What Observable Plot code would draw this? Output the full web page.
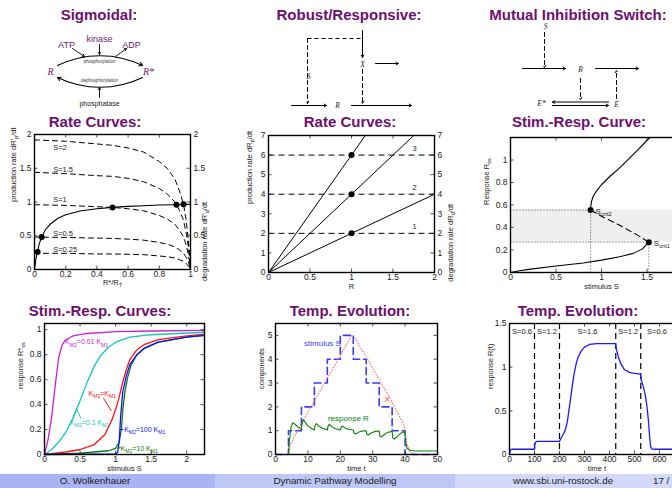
<!DOCTYPE html>
<html><head><meta charset="utf-8">
<script src="https://cdn.jsdelivr.net/npm/d3@7"></script>
<script src="https://cdn.jsdelivr.net/npm/@observablehq/plot@0.6"></script>
<style>
body{margin:0;width:672px;height:488px;overflow:hidden;background:#fff;position:relative;font-family:"Liberation Sans",Arial,sans-serif}
.ttl{position:absolute;width:240px;text-align:center;font-weight:bold;font-size:15px;line-height:15px;color:#6e0f6e;white-space:nowrap}
.foot{position:absolute;top:474px;height:14px}
.ftxt{position:absolute;top:474px;font-size:9.8px;line-height:14px;color:#1a1a1a;white-space:nowrap}
</style></head><body>
<script>
// ================= DATA =================
const titles = ["Sigmoidal:", "Robust/Responsive:", "Mutual Inhibition Switch:",
  "Rate Curves:", "Rate Curves:", "Stim.-Resp. Curve:",
  "Stim.-Resp. Curves:", "Temp. Evolution:", "Temp. Evolution:"];
const footerTexts = ["O. Wolkenhauer", "Dynamic Pathway Modelling", "www.sbi.uni-rostock.de", "17 /"];

// Panel: Rate curves (sigmoidal)
const rcR = [0,0.2,0.4,0.5,0.6,0.7,0.8,0.85,0.9,0.93,0.955,0.97,0.98,0.99,1];
const prodS2   = [1.92,1.90,1.86,1.84,1.80,1.74,1.60,1.50,1.34,1.16,0.97,0.76,0.58,0.34,0];
const prodS15  = [1.44,1.42,1.39,1.38,1.35,1.30,1.20,1.12,1.00,0.87,0.73,0.57,0.44,0.25,0];
const prodS1   = [0.96,0.95,0.93,0.92,0.90,0.87,0.80,0.75,0.67,0.58,0.485,0.38,0.29,0.17,0];
const prodS05  = [0.48,0.475,0.465,0.46,0.45,0.435,0.40,0.375,0.335,0.29,0.24,0.19,0.145,0.085,0];
const prodS025 = [0.24,0.24,0.23,0.23,0.225,0.22,0.20,0.19,0.17,0.145,0.12,0.095,0.07,0.04,0];
const prodLabels = ["S=2","S=1.5","S=1","S=0.5","S=0.25"];
const degR = [0,0.005,0.01,0.02,0.03,0.046,0.07,0.1,0.15,0.2,0.3,0.4,0.5,0.6,0.7,0.8,0.9,1];
const degRate = [0,0.09,0.17,0.27,0.38,0.48,0.59,0.67,0.76,0.81,0.87,0.90,0.92,0.935,0.945,0.955,0.96,0.965];
const eqR = [0.02,0.046,0.5,0.91,0.955];
const eqRate = [0.26,0.48,0.92,0.96,0.965];
const rcXTicks = [0,0.2,0.4,0.6,0.8,1];
const rcYTicks = [0,0.5,1,1.5,2];

// Panel: Rate curves (robust)
const robLevels = [2,4,6];
const robLevelLabels = ["1","2","3"];
const robEndR = [2,1.75,1.1667];
const robEndRate = [4,7,7];
const robDotR = [1,1,1];
const robXTicks = [0,0.5,1,1.5,2];
const robYTicks = [0,1,2,3,4,5,6,7];

// Panel: Stim.-Resp. Curve (switch)
const lowS = [0,0.1,0.2,0.5,0.8,1.0,1.2,1.35,1.45,1.52];
const lowR = [0,0.015,0.028,0.058,0.085,0.11,0.14,0.17,0.21,0.27];
const midS = [0.88,1.0,1.2,1.4,1.52];
const midR = [0.555,0.50,0.42,0.33,0.27];
const upS = [0.88,0.882,0.89,0.91,0.95,1.0,1.1,1.2,1.3,1.4,1.53];
const upR = [0.555,0.59,0.63,0.68,0.73,0.78,0.86,0.93,1.01,1.09,1.2];
const critS = [0.88,1.52];
const critR = [0.555,0.27];
const critLabels = ["S_{crit2}","S_{crit1}"];
const swXTicks = [0,0.5,1,1.5];
const swYTicks = [0,0.2,0.4,0.6,0.8,1];

// Panel: Stim.-Resp. Curves (family)
const magS = [0,0.05,0.1,0.15,0.2,0.25,0.3,0.4,0.6,1,1.5,2.25];
const magR = [0,0.12,0.3,0.55,0.78,0.88,0.92,0.95,0.97,0.985,0.99,0.995];
const cyS = [0,0.1,0.2,0.3,0.4,0.45,0.5,0.6,0.7,0.8,0.9,1.0,1.2,1.5,2.25];
const cyR = [0,0.04,0.1,0.18,0.29,0.36,0.43,0.58,0.71,0.8,0.86,0.9,0.94,0.96,0.98];
const redS = [0,0.3,0.5,0.7,0.85,0.95,1.0,1.05,1.1,1.15,1.2,1.3,1.4,1.6,2.0,2.25];
const redR = [0,0.02,0.04,0.08,0.16,0.28,0.36,0.46,0.58,0.68,0.76,0.84,0.88,0.92,0.95,0.965];
const grS = [0,0.5,0.9,1.0,1.05,1.08,1.1,1.13,1.17,1.22,1.3,1.4,1.6,2.0,2.25];
const grR = [0,0.01,0.03,0.05,0.1,0.2,0.35,0.5,0.62,0.72,0.8,0.85,0.9,0.94,0.955];
const blS = [0,1.0,1.03,1.05,1.07,1.1,1.15,1.2,1.3,1.4,1.6,2.0,2.25];
const blR = [0,0.005,0.02,0.1,0.3,0.5,0.63,0.72,0.8,0.85,0.9,0.94,0.955];
const famLabels = ["K_{M2}=0.01 K_{M1}","K_{M2}=K_{M1}","K_{M2}=0.1 K_{M1}","K_{M2}=100 K_{M1}","K_{M2}=10 K_{M1}"];
const famXTicks = [0,0.5,1,1.5,2];
const famYTicks = [0,0.2,0.4,0.6,0.8,1];

// Panel: Temp. Evolution (robust)
const stimT = [0,4,8,12,16,20,24,28,32,36,40,50];
const stimS = [0,1,2,3,4,5,4,3,2,1,0,0];
const xT = [0,4,4.5,8,12,16,20,23.5,24,28,32,36,39.8,40.5,41.5,43,50];
const xV = [0,0,0.4,1.3,2.25,3.2,4.15,5.0,5.0,4.1,3.15,2.2,1.2,0.5,0.1,0,0];
const respT = [0,4,4.3,4.8,5.3,6,7,8,8.2,8.6,9.2,10,11,12,12.2,12.6,13.3,14.5,16,16.2,16.6,17.3,18.5,20,20.2,20.6,21.3,22.5,24,24.2,24.7,25.5,26.5,28,28.2,28.7,29.5,30.5,32,32.2,32.7,33.5,34.5,36,36.2,36.7,37.5,38.5,39.9,40.2,40.6,41.5,43,50];
const respR = [0,0,0.6,1.15,1.33,1.27,1.15,1.07,1.3,1.47,1.35,1.2,1.1,1.03,1.2,1.3,1.2,1.1,1.03,1.18,1.27,1.17,1.08,1.03,1.12,1.2,1.12,1.06,1.03,0.9,0.86,0.93,0.98,1.0,0.85,0.82,0.9,0.96,0.99,0.78,0.74,0.83,0.92,0.97,0.7,0.65,0.75,0.88,0.97,0.5,0.25,0.18,0.15,0.15];
const teXTicks = [0,10,20,30,40,50];
const teYTicks = [0,1,2,3,4,5];

// Panel: Temp. Evolution (switch)
const swT = [0,3,8,100,101,104,110,200,205,213,222,231,240,248,257,266,275,288,300,320,350,424,428,435,445,460,480,500,524,527,535,543,550,556,560,564,568,580,700];
const swRt = [0,0.05,0.06,0.06,0.11,0.14,0.15,0.15,0.18,0.22,0.27,0.37,0.55,0.72,0.9,1.03,1.12,1.19,1.23,1.26,1.27,1.27,1.2,1.12,1.04,0.97,0.94,0.93,0.92,0.85,0.78,0.68,0.55,0.38,0.22,0.1,0.065,0.06,0.06];
const switchTimes = [100,200,425,525];
const phaseLabels = ["S=0.6","S=1.2","S=1.6","S=1.2","S=0.6"];
const phaseMid = [50,150,312,475,590];
const te2XTicks = [0,100,200,300,400,500,600];
const te2YTicks = [0,0.5,1,1.5];

// ================= HELPERS =================
const pts = (xs, ys) => xs.map((x, i) => ({x, y: ys[i]}));
const SVGNS = "http://www.w3.org/2000/svg";
function subify(svg) {
  svg.querySelectorAll("text").forEach(t => {
    const s = t.textContent;
    if (!/[_^]\{/.test(s)) return;
    const fs = parseFloat(getComputedStyle(t).fontSize) || 8;
    while (t.firstChild) t.removeChild(t.firstChild);
    const re = /([_^])\{([^}]*)\}/g;
    let last = 0, m, cur = 0;
    const add = (str, off, small) => {
      const ts = document.createElementNS(SVGNS, "tspan");
      ts.textContent = str;
      if (off !== cur) ts.setAttribute("dy", off - cur);
      if (small) ts.setAttribute("font-size", fs * 0.72);
      cur = off;
      t.appendChild(ts);
    };
    while ((m = re.exec(s))) {
      if (m.index > last) add(s.slice(last, m.index), 0, false);
      add(m[2], m[1] === "_" ? fs * 0.3 : -fs * 0.4, true);
      last = re.lastIndex;
    }
    if (last < s.length) add(s.slice(last), 0, false);
  });
}
function place(el, left, top) {
  el.style.position = "absolute"; el.style.left = left + "px"; el.style.top = top + "px";
  document.body.appendChild(el);
  subify(el);
}
const fmt = d => String(d);

function chart(o) {
  const [mt, mr, mb, ml] = o.m;
  const fh = o.height - mt - mb, fw = o.width - ml - mr;
  const marks = [
    ...(o.under || []),
    ...o.marks,
    Plot.tickX(o.xt, {x: d => d, insetTop: fh - 3.5, strokeWidth: 0.8}),
    Plot.tickX(o.xt, {x: d => d, insetBottom: fh - 3.5, strokeWidth: 0.8}),
    Plot.tickY(o.yt, {y: d => d, insetRight: fw - 3.5, strokeWidth: 0.8}),
    Plot.tickY(o.yt, {y: d => d, insetLeft: fw - 3.5, strokeWidth: 0.8}),
    Plot.axisX({ticks: o.xt, tickSize: 0, tickPadding: 1, tickFormat: fmt, label: null, fontSize: 8.5}),
    Plot.axisY({ticks: o.yt, tickSize: 0, tickPadding: 3, tickFormat: fmt, label: null, fontSize: 8.5}),
    Plot.frame({stroke: "black", strokeWidth: 1.4}),
    Plot.text([o.xl], {frameAnchor: "bottom", dy: o.xlDy, text: d => d, fontSize: 7.5}),
    Plot.text([o.yl], {frameAnchor: "left", rotate: -90, dx: o.ylDx, text: d => d, fontSize: 7.5})
  ];
  if (o.yr) {
    marks.push(Plot.axisY({anchor: "right", ticks: o.yt, tickSize: 0, tickPadding: 3, tickFormat: fmt, label: null, fontSize: 8.5}));
    marks.push(Plot.text([o.yr], {frameAnchor: "right", rotate: -90, dx: o.yrDx, text: d => d, fontSize: 7.5}));
  }
  const svg = Plot.plot({
    width: o.width, height: o.height,
    marginTop: mt, marginRight: mr, marginBottom: mb, marginLeft: ml,
    x: {domain: o.xd}, y: {domain: o.yd},
    style: {fontFamily: "'Liberation Sans', Arial, sans-serif", color: "#222", background: "transparent", overflow: "visible"},
    marks
  });
  place(svg, o.left, o.top);
}

function diagram(left, marks) {
  const svg = Plot.plot({
    width: 224, height: 110, margin: 0,
    x: {domain: [0, 224], range: [0, 224], axis: null},
    y: {domain: [0, 110], range: [0, 110], axis: null},
    style: {background: "transparent", overflow: "visible", fontFamily: "'Liberation Sans', Arial, sans-serif"},
    marks
  });
  place(svg, left, 0);
}

// ================= LAYOUT =================
const titleCenters = [[99,7],[349,7],[578,7],[95,114],[350,114],[579,114],[100,303],[350,303],[578,303]];
titles.forEach((t, i) => {
  const d = document.createElement("div");
  d.className = "ttl"; d.textContent = t;
  d.style.left = (titleCenters[i][0] - 120) + "px"; d.style.top = titleCenters[i][1] + "px";
  document.body.appendChild(d);
});

// ---- Diagram 1: Sigmoidal (phosphorylation cycle)
const serifIt = {fontFamily: "'Liberation Serif', serif", fontStyle: "italic"};
const purple = "#6e1a6e";
const d1Words = [{t: "ATP", x: 66, y: 45}, {t: "kinase", x: 99, y: 39}, {t: "ADP", x: 131, y: 45}];
const d1Species = [{t: "R", x: 50, y: 71}, {t: "R*", x: 148, y: 71}];
const d1Small = [{t: "phosphorylation", x: 99, y: 61}, {t: "dephosphorylation", x: 99, y: 80}];
const d1Straight = [
  {x1: 99, y1: 44, x2: 99, y2: 54}, {x1: 72, y1: 48, x2: 84, y2: 56},
  {x1: 115, y1: 56, x2: 126, y2: 48}, {x1: 99, y1: 97, x2: 99, y2: 87}];
diagram(0, [
  Plot.arrow([{x1: 57, y1: 65, x2: 142, y2: 65}], {x1: "x1", y1: "y1", x2: "x2", y2: "y2", bend: 26, headLength: 5, strokeWidth: 1.1}),
  Plot.arrow([{x1: 142, y1: 77, x2: 57, y2: 77}], {x1: "x1", y1: "y1", x2: "x2", y2: "y2", bend: 26, headLength: 5, strokeWidth: 1.1}),
  Plot.arrow(d1Straight, {x1: "x1", y1: "y1", x2: "x2", y2: "y2", headLength: 4, strokeWidth: 0.9}),
  Plot.text(d1Words, {x: "x", y: "y", text: "t", fill: purple, fontSize: 9}),
  Plot.text(d1Species, {x: "x", y: "y", text: "t", fill: purple, fontSize: 10, ...serifIt}),
  Plot.text(d1Small, {x: "x", y: "y", text: "t", fill: "#333", fontSize: 4.5}),
  Plot.text([{t: "phosphatase", x: 99, y: 103}], {x: "x", y: "y", text: "t", fill: "#222", fontSize: 7})
]);

// ---- Diagram 2: Robust / Responsive
const d2Dashed = [{x1: 83, y1: 38, x2: 138, y2: 38}];
const d2DashedArrows = [{x1: 83, y1: 38, x2: 83, y2: 103}, {x1: 138, y1: 69, x2: 138, y2: 103}];
const d2Arrows = [{x1: 138, y1: 30, x2: 138, y2: 57}, {x1: 151, y1: 63, x2: 174, y2: 63},
  {x1: 67, y1: 105, x2: 102, y2: 105}, {x1: 127, y1: 105, x2: 187, y2: 105}];
const d2Labels = [{t: "S", x: 84, y: 76}, {t: "X", x: 138, y: 64}, {t: "R", x: 113, y: 105}];
diagram(224, [
  Plot.link(d2Dashed, {x1: "x1", y1: "y1", x2: "x2", y2: "y2", strokeDasharray: "4,3", strokeWidth: 1}),
  Plot.arrow(d2DashedArrows, {x1: "x1", y1: "y1", x2: "x2", y2: "y2", strokeDasharray: "4,3", headLength: 4, strokeWidth: 1}),
  Plot.arrow(d2Arrows, {x1: "x1", y1: "y1", x2: "x2", y2: "y2", headLength: 4, strokeWidth: 1}),
  Plot.text(d2Labels, {x: "x", y: "y", text: "t", fill: "#222", fontSize: 7.5, ...serifIt})
]);

// ---- Diagram 3: Mutual inhibition switch
const d3DashedArrows = [{x1: 96, y1: 32, x2: 96, y2: 67}, {x1: 132, y1: 78, x2: 132, y2: 99}, {x1: 168, y1: 98, x2: 168, y2: 70}];
const d3Arrows = [{x1: 74, y1: 68, x2: 117, y2: 68}, {x1: 147, y1: 68, x2: 190, y2: 68},
  {x1: 160, y1: 101.5, x2: 104, y2: 101.5}, {x1: 104, y1: 105, x2: 160, y2: 105}];
const d3Labels = [{t: "S", x: 97, y: 26}, {t: "R", x: 132, y: 69}, {t: "E*", x: 93, y: 103}, {t: "E", x: 168, y: 104}];
diagram(448, [
  Plot.arrow(d3DashedArrows, {x1: "x1", y1: "y1", x2: "x2", y2: "y2", strokeDasharray: "4,3", headLength: 4, strokeWidth: 1}),
  Plot.arrow(d3Arrows, {x1: "x1", y1: "y1", x2: "x2", y2: "y2", headLength: 4, strokeWidth: 1}),
  Plot.text(d3Labels, {x: "x", y: "y", text: "t", fill: "#222", fontSize: 7.5, ...serifIt})
]);

// ---- Panel 4: Rate curves (sigmoidal)
const prodSeries = [prodS2, prodS15, prodS1, prodS05, prodS025];
const prodLabelY = [1.81, 1.48, 1.03, 0.53, 0.30];
chart({
  left: 0, top: 128, width: 224, height: 166, m: [6, 34, 25, 34],
  xd: [0, 1], yd: [0, 2], xt: rcXTicks, yt: rcYTicks,
  xl: "R*/R_{T}", xlDy: 15, yl: "production rate dR'_{p}/dt", ylDx: -21,
  yr: "degradation rate dR'_{d}/dt", yrDx: 14,
  marks: [
    ...prodSeries.map(s => Plot.line(pts(rcR, s), {x: "x", y: "y", stroke: "black", strokeWidth: 1, strokeDasharray: "5,4"})),
    Plot.line(pts(degR, degRate), {x: "x", y: "y", stroke: "black", strokeWidth: 1.1}),
    Plot.dot(pts(eqR, eqRate), {x: "x", y: "y", r: 3, fill: "black"}),
    Plot.text(prodLabels.map((t, i) => ({t, y: prodLabelY[i]})), {x: 0.12, y: "y", text: "t", textAnchor: "start", fontSize: 7.5, fill: "#222"})
  ]
});

// ---- Panel 5: Rate curves (robust)
chart({
  left: 224, top: 128, width: 240, height: 166, m: [7, 30, 22, 44],
  xd: [0, 2], yd: [0, 7], xt: robXTicks, yt: robYTicks,
  xl: "R", xlDy: 16, yl: "production rate dR_{p}/dt", ylDx: -19,
  yr: "degradation rate dR_{d}/dt", yrDx: 16,
  marks: [
    Plot.link(robLevels, {x1: 0, x2: 2, y1: d => d, y2: d => d, stroke: "black", strokeDasharray: "6,4", strokeWidth: 1}),
    Plot.link(robEndR.map((r, i) => ({r, v: robEndRate[i]})), {x1: 0, y1: 0, x2: "r", y2: "v", stroke: "black", strokeWidth: 1}),
    Plot.dot(pts(robDotR, robLevels), {x: "x", y: "y", r: 3, fill: "black"}),
    Plot.text(robLevels.map((v, i) => ({v, t: robLevelLabels[i]})), {x: 1.76, y: d => d.v + 0.35, text: "t", fontSize: 7.5, fill: "#222"})
  ]
});

// ---- Panel 6: Stim.-Resp. Curve (switch)
chart({
  left: 448, top: 128, width: 250, height: 166, m: [9, 6, 22, 62],
  xd: [0, 2], yd: [0, 1.2], xt: swXTicks, yt: swYTicks,
  xl: "stimulus S", xlDy: 16, yl: "Response R_{ss}", ylDx: -24,
  under: [
    Plot.rect([0], {x1: 0, x2: 2, y1: critR[1], y2: critR[0], fill: "#efefef"})
  ],
  marks: [
    Plot.link(pts(critS, critR), {x1: 0, x2: "x", y1: "y", y2: "y", stroke: "#444", strokeDasharray: "1,2", strokeWidth: 1}),
    Plot.link(pts(critS, critR), {x1: "x", x2: "x", y1: 0, y2: "y", stroke: "#444", strokeDasharray: "1,2", strokeWidth: 1}),
    Plot.line(pts(lowS, lowR), {x: "x", y: "y", stroke: "black", strokeWidth: 1.1}),
    Plot.line(pts(upS, upR), {x: "x", y: "y", stroke: "black", strokeWidth: 1.1}),
    Plot.line(pts(midS, midR), {x: "x", y: "y", stroke: "black", strokeWidth: 1.1, strokeDasharray: "6,4"}),
    Plot.dot(pts(critS, critR), {x: "x", y: "y", r: 3, fill: "black"}),
    Plot.text(critLabels.map((t, i) => ({t, x: critS[i], y: critR[i]})), {x: "x", y: "y", text: "t", dx: 5, dy: 1, textAnchor: "start", fontSize: 8, fill: "#222"})
  ]
});

// ---- Panel 7: Stim.-Resp. Curves
const cMag = "#cc22cc", cCy = "#11c4c4", cRed = "#ff1010", cGr = "#0a7a0a", cBl = "#1010ff";
const famLabelPos = [[0.29, 0.90, cMag], [0.62, 0.485, cRed], [0.36, 0.255, cCy], [1.12, 0.2, cBl], [1.07, 0.05, cGr]];
const famPointers = [
  {x1: 0.83, y1: 0.45, x2: 0.94, y2: 0.35, c: cRed},
  {x1: 0.40, y1: 0.29, x2: 0.45, y2: 0.37, c: cCy},
  {x1: 0.51, y1: 0.29, x2: 0.45, y2: 0.37, c: cCy},
  {x1: 1.06, y1: 0.2, x2: 1.11, y2: 0.2, c: cBl},
  {x1: 1.02, y1: 0.05, x2: 1.07, y2: 0.055, c: cGr}
];
chart({
  left: 0, top: 318, width: 224, height: 160, m: [5, 20, 24, 44],
  xd: [0, 2.25], yd: [0, 1.05], xt: famXTicks, yt: famYTicks,
  xl: "stimulus S", xlDy: 16, yl: "response R*_{ss}", ylDx: -24,
  marks: [
    Plot.line(pts(magS, magR), {x: "x", y: "y", stroke: cMag, strokeWidth: 1.3}),
    Plot.line(pts(cyS, cyR), {x: "x", y: "y", stroke: cCy, strokeWidth: 1.3}),
    Plot.line(pts(redS, redR), {x: "x", y: "y", stroke: cRed, strokeWidth: 1.3}),
    Plot.line(pts(grS, grR), {x: "x", y: "y", stroke: cGr, strokeWidth: 1.3}),
    Plot.line(pts(blS, blR), {x: "x", y: "y", stroke: cBl, strokeWidth: 1.3}),
    Plot.link(famPointers, {x1: "x1", y1: "y1", x2: "x2", y2: "y2", stroke: d => d.c, strokeWidth: 1}),
    Plot.text(famLabels.map((t, i) => ({t, x: famLabelPos[i][0], y: famLabelPos[i][1], c: famLabelPos[i][2]})),
      {x: "x", y: "y", text: "t", fill: d => d.c, textAnchor: "start", fontSize: 7})
  ]
});

// ---- Panel 8: Temp. Evolution (robust)
chart({
  left: 224, top: 318, width: 224, height: 160, m: [5, 11, 24, 51],
  xd: [0, 50], yd: [0, 5.5], xt: teXTicks, yt: teYTicks,
  xl: "time t", xlDy: 16, yl: "components", ylDx: -14,
  marks: [
    Plot.line(pts(stimT, stimS), {x: "x", y: "y", curve: "step-after", stroke: "#3a3aff", strokeWidth: 1.6, strokeDasharray: "7,4"}),
    Plot.line(pts(xT, xV), {x: "x", y: "y", stroke: "#ff5555", strokeWidth: 1, strokeDasharray: "1,2"}),
    Plot.line(pts(respT, respR), {x: "x", y: "y", stroke: "#0a800a", strokeWidth: 1.1}),
    Plot.text([{t: "stimulus S", x: 14.5, y: 4.65}], {x: "x", y: "y", text: "t", fill: "#3a3aff", fontSize: 8}),
    Plot.text([{t: "X", x: 34.5, y: 2.3}], {x: "x", y: "y", text: "t", fill: "#ff3333", fontSize: 8}),
    Plot.text([{t: "response R", x: 22.5, y: 1.5}], {x: "x", y: "y", text: "t", fill: "#0a800a", fontSize: 8})
  ]
});

// ---- Panel 9: Temp. Evolution (switch)
chart({
  left: 448, top: 318, width: 250, height: 160, m: [5, 14, 24, 61],
  xd: [0, 700], yd: [0, 1.5], xt: te2XTicks, yt: te2YTicks,
  xl: "time t", xlDy: 16, yl: "response R(t)", ylDx: -19,
  marks: [
    Plot.ruleX(switchTimes, {stroke: "black", strokeDasharray: "6,4", strokeWidth: 1.2}),
    Plot.line(pts(swT, swRt), {x: "x", y: "y", stroke: "#1a1aff", strokeWidth: 1.3}),
    Plot.text(phaseLabels.map((t, i) => ({t, x: phaseMid[i]})), {x: "x", y: 1.41, text: "t", fill: "#222", fontSize: 7.5})
  ]
});

// ---- Footer
const footBlocks = [[0, 215, "#a8b4f3"], [215, 240, "#bec8f7"], [455, 217, "#d3d9fa"]];
footBlocks.forEach(([l, w, c]) => {
  const d = document.createElement("div");
  d.className = "foot"; d.style.left = l + "px"; d.style.width = w + "px"; d.style.background = c;
  document.body.appendChild(d);
});
const footPos = [[95, "c"], [335, "c"], [563, "c"], [653, "l"]];
footerTexts.forEach((t, i) => {
  const d = document.createElement("div");
  d.className = "ftxt"; d.textContent = t;
  if (footPos[i][1] === "c") { d.style.left = (footPos[i][0] - 100) + "px"; d.style.width = "200px"; d.style.textAlign = "center"; }
  else d.style.left = footPos[i][0] + "px";
  document.body.appendChild(d);
});
</script>
</body></html>
